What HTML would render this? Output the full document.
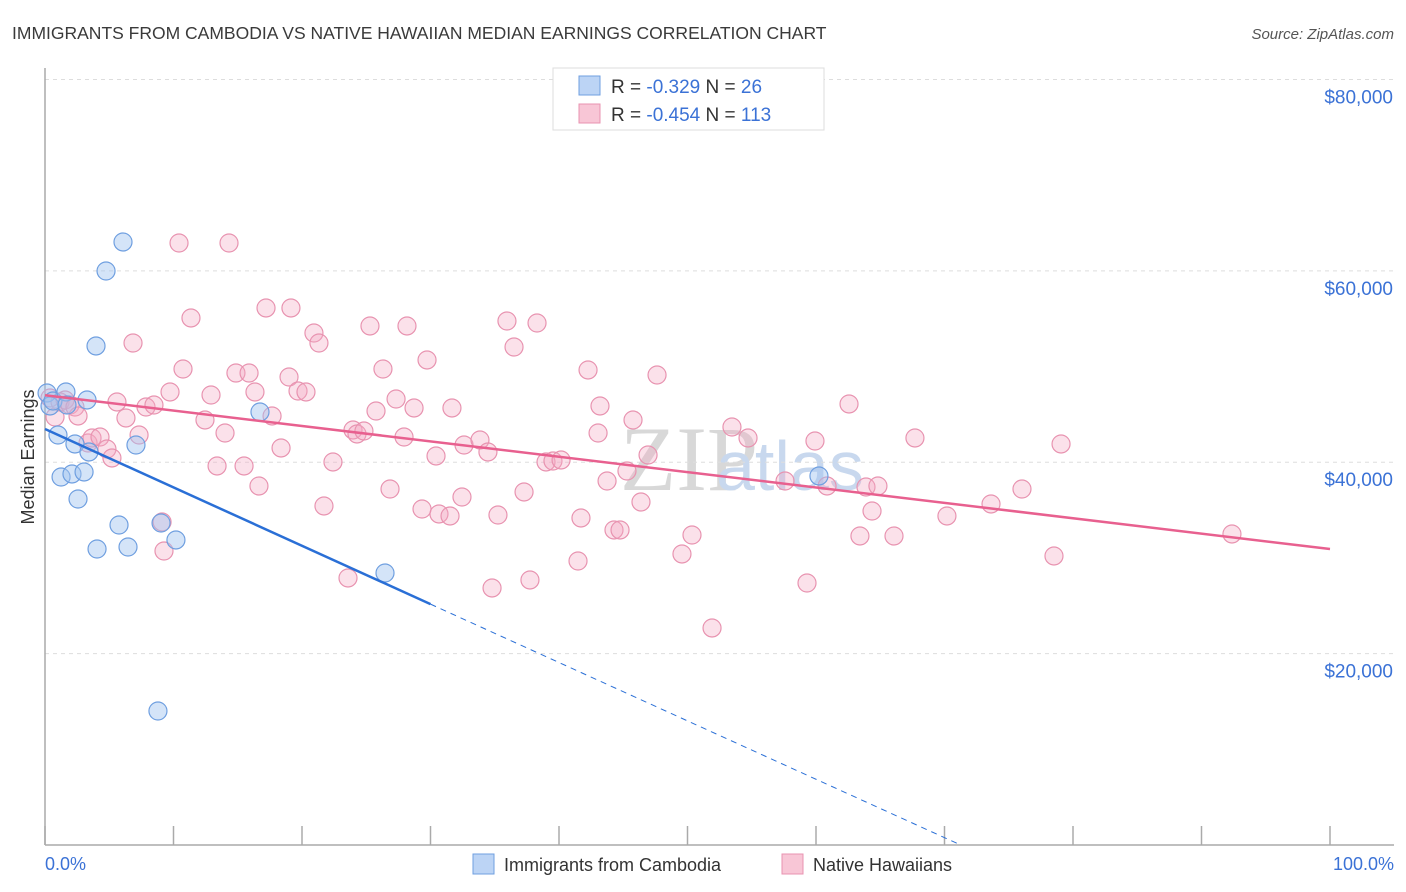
<!DOCTYPE html>
<html><head><meta charset="utf-8"><style>
body{margin:0;background:#fff;font-family:"Liberation Sans",sans-serif;}
svg{display:block}
</style></head><body>
<svg id="chart" width="1406" height="892">
<text x="12" y="39" font-size="17.5" fill="#3a3a3a">IMMIGRANTS FROM CAMBODIA VS NATIVE HAWAIIAN MEDIAN EARNINGS CORRELATION CHART</text>
<text x="1394" y="39" font-size="15" fill="#555" font-style="italic" text-anchor="end">Source: ZipAtlas.com</text>
<text x="620" y="490" font-size="92" fill="#d8d8d8" font-family="Liberation Serif, serif">ZIP</text>
<text x="716" y="490" font-size="70" fill="#c8d8ee">atlas</text>
<g id="grid"></g><g id="axes"></g><g id="pink"></g><g id="blue"></g><g id="trend"></g>
<text transform="translate(34,457) rotate(-90)" font-size="18" fill="#333" text-anchor="middle">Median Earnings</text>
<text x="45" y="870" font-size="18" fill="#3b72d6">0.0%</text>
<text x="1394" y="870" font-size="18" fill="#3b72d6" text-anchor="end">100.0%</text>
<g>
<rect x="553" y="68" width="271" height="62" fill="#fff" stroke="#ddd"/>
<rect x="579" y="76" width="21" height="19" fill="#bcd4f5" stroke="#6f9fe0"/>
<rect x="579" y="104" width="21" height="19" fill="#f8c6d6" stroke="#e893b0"/>
<text x="611" y="93" font-size="19" fill="#333">R = <tspan fill="#3b72d6">-0.329</tspan>   N = <tspan fill="#3b72d6"> 26</tspan></text>
<text x="611" y="121" font-size="19" fill="#333">R = <tspan fill="#3b72d6">-0.454</tspan>   N = <tspan fill="#3b72d6">113</tspan></text>
</g>
<g>
<rect x="473" y="854" width="21" height="20" fill="#bcd4f5" stroke="#6f9fe0"/>
<text x="504" y="871" font-size="18" fill="#333">Immigrants from Cambodia</text>
<rect x="782" y="854" width="21" height="20" fill="#f8c6d6" stroke="#e893b0"/>
<text x="813" y="871" font-size="18" fill="#333">Native Hawaiians</text>
</g>
</svg>
<script>
const yTicks=[20000,40000,60000,80000];
const yTickLabels=["$20,000","$40,000","$60,000","$80,000"];
const xTicks=[0,10,20,30,40,50,60,70,80,90,100];
const bluePx=[[47,393],[50,406],[53,401],[58,435],[66,392],[67,405],[87,400],[61,477],[72,474],[84,472],[75,444],[78,499],[89,452],[97,549],[106,271],[123,242],[96,346],[119,525],[128,547],[136,445],[158,711],[161,523],[176,540],[260,412],[385,573],[819,476]];
const pinkPx=[[50,398],[55,417],[60,402],[65,400],[70,405],[75,407],[78,416],[88,443],[92,438],[100,437],[107,449],[112,458],[117,402],[126,418],[133,343],[139,435],[146,407],[154,405],[162,522],[164,551],[170,392],[179,243],[183,369],[191,318],[205,420],[211,395],[217,466],[225,433],[229,243],[236,373],[244,466],[249,373],[255,392],[259,486],[266,308],[272,416],[281,448],[289,377],[291,308],[298,391],[306,392],[314,333],[319,343],[324,506],[333,462],[348,578],[353,430],[357,434],[364,431],[370,326],[376,411],[383,369],[390,489],[396,399],[404,437],[407,326],[414,408],[422,509],[427,360],[436,456],[439,514],[450,516],[452,408],[462,497],[464,445],[480,440],[488,452],[492,588],[498,515],[507,321],[514,347],[524,492],[530,580],[537,323],[546,462],[553,461],[561,460],[578,561],[581,518],[588,370],[600,406],[598,433],[607,481],[614,530],[620,530],[627,471],[633,420],[641,502],[648,455],[657,375],[682,554],[692,535],[712,628],[732,427],[748,438],[785,481],[807,583],[815,441],[827,486],[849,404],[860,536],[866,487],[872,511],[878,486],[894,536],[915,438],[947,516],[991,504],[1022,489],[1054,556],[1061,444],[1232,534]];
// data values (x in %, y in $)
const blueX=bluePx.map(p=>+((p[0]-45)/12.85).toFixed(2));
const blueY=bluePx.map(p=>Math.round((845-p[1])*104.5));
const pinkX=pinkPx.map(p=>+((p[0]-45)/12.85).toFixed(2));
const pinkY=pinkPx.map(p=>Math.round((845-p[1])*104.5));
const pinkTrend=[47000,30930];
const blueTrend=[43470,-610];
const NS="http://www.w3.org/2000/svg";
const sx=v=>45+v*12.85, sy=v=>845-v/104.5;
function mk(t,a,parent){const e=document.createElementNS(NS,t);for(const k in a)e.setAttribute(k,a[k]);document.getElementById(parent).appendChild(e);return e;}
yTicks.forEach((v,i)=>{
 const l=mk('line',{x1:45,x2:1394,y1:sy(v),y2:sy(v),stroke:'#ddd','stroke-dasharray':'4,4'},'grid');
 
 
 const t=mk('text',{x:1393,y:sy(v)+24,'font-size':19,fill:'#3b72d6','text-anchor':'end'},'grid');
 t.textContent=yTickLabels[i];
 
 
});
const ay=mk('line',{x1:45,x2:45,y1:68,y2:845,stroke:'#aaa','stroke-width':1.5},'axes');


const ax=mk('line',{x1:45,x2:1394,y1:845,y2:845,stroke:'#aaa','stroke-width':1.5},'axes');


xTicks.forEach(v=>{
 const t=mk('line',{x1:sx(v),x2:sx(v),y1:826,y2:845,stroke:'#aaa','stroke-width':1.5},'axes');
 
 
});
pinkX.forEach((x,i)=>{
 const c=mk('circle',{cx:sx(x),cy:sy(pinkY[i]),r:9,fill:'rgba(244,170,195,0.35)',stroke:'#e893b0','stroke-width':1.2},'pink');
 
 
});
blueX.forEach((x,i)=>{
 const c=mk('circle',{cx:sx(x),cy:sy(blueY[i]),r:9,fill:'rgba(160,196,240,0.45)',stroke:'#6f9fe0','stroke-width':1.2},'blue');
 
 
});
const pt=mk('line',{x1:sx(0),y1:sy(pinkTrend[0]),x2:sx(100),y2:sy(pinkTrend[1]),stroke:'#e8608f','stroke-width':2.5},'trend');


const bEnd=30, bZero=-blueTrend[0]/blueTrend[1];
const bt=mk('line',{x1:sx(0),y1:sy(blueTrend[0]),x2:sx(bEnd),y2:sy(blueTrend[0]+blueTrend[1]*bEnd),stroke:'#2a6fd6','stroke-width':2.5},'trend');


const bd=mk('line',{x1:sx(bEnd),y1:sy(blueTrend[0]+blueTrend[1]*bEnd),x2:sx(bZero),y2:sy(0),stroke:'#2a6fd6','stroke-width':1,'stroke-dasharray':'6,5'},'trend');


</script>
</body></html>
